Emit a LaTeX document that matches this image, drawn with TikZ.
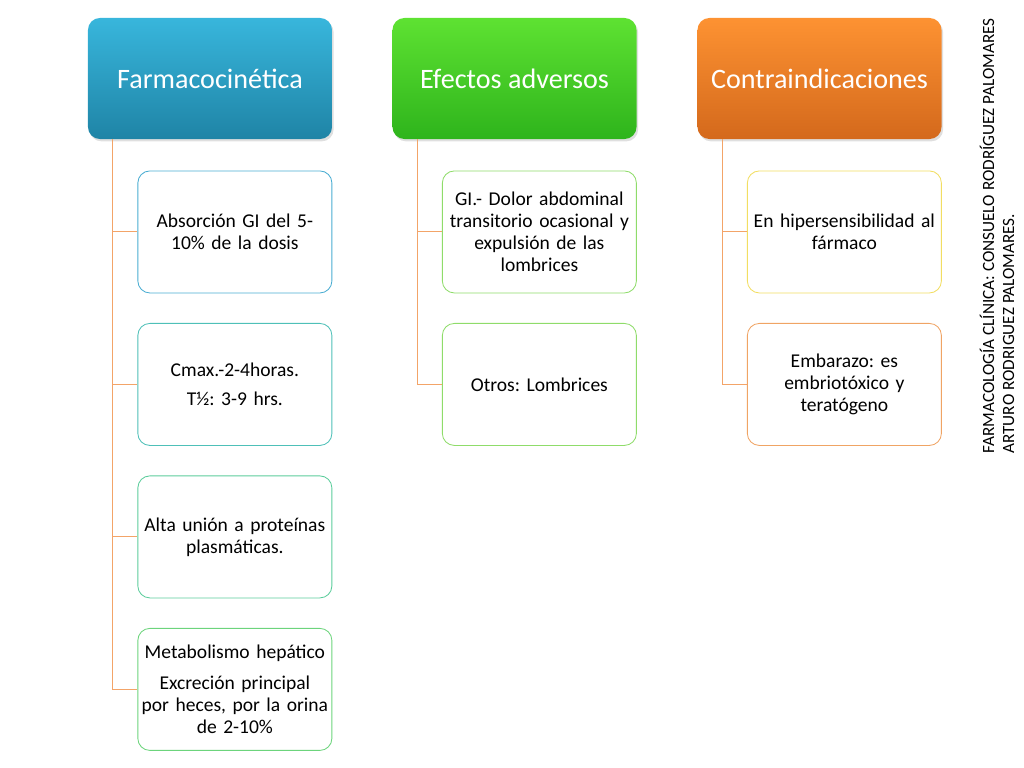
\documentclass[tikz,border=0pt]{standalone}
\usepackage{fontspec}
\setmainfont{Carlito}
\usetikzlibrary{positioning,shadows}
\frenchspacing
\hyphenpenalty=10000
\exhyphenpenalty=10000

\definecolor{fktop}{HTML}{38B6DC}
\definecolor{fkbot}{HTML}{1F84A6}
\definecolor{eatop}{HTML}{5EE232}
\definecolor{eabot}{HTML}{2EB41C}
\definecolor{citop}{HTML}{FD9232}
\definecolor{cibot}{HTML}{D4691C}
\definecolor{fkA}{HTML}{4AADD2}
\definecolor{fkB}{HTML}{4EC0B8}
\definecolor{fkC}{HTML}{5CCD9C}
\definecolor{fkD}{HTML}{6CD47C}
\definecolor{eaA}{HTML}{8FDC6A}
\definecolor{ciA}{HTML}{F2DE62}
\definecolor{ciB}{HTML}{F0A464}
\definecolor{linkorange}{HTML}{F3A468}

\begin{document}
\begin{tikzpicture}[
  x=0.025cm, y=-0.025cm,
  head/.style={rectangle, rounded corners=0.3cm, minimum width=6.1cm, minimum height=3.025cm,
    top color=#1top, bottom color=#1bot, text=white, font=\fontsize{20}{24}\selectfont,
    drop shadow={opacity=0.25, shadow xshift=0.04cm, shadow yshift=-0.06cm}},
  item/.style={rectangle, draw=#1, line width=0.6pt, rounded corners=0.3cm, fill=white,
    minimum width=4.85cm, minimum height=3.05cm, text width=4.75cm, inner xsep=0.05cm, align=center,
    font=\fontsize{13.9}{15.6}\selectfont},
  link/.style={draw=linkorange, line width=0.7pt}
]
\useasboundingbox (0,0) rectangle (1024,768);

% headers
\node[head=fk] (fk) at (210,78.5) {Farmacocinética};
\node[head=ea] (ea) at (514.5,78.5) {Efectos adversos};
\node[head=ci] (ci) at (819.5,78.5) {Contraindicaciones};

% Farmacocinetica
\node[item=fkA, below=0.78cm of fk.south east, anchor=north east] (fk1) {Absorción GI del 5-\\10\% de la dosis};
\node[item=fkB, below=0.74cm of fk1] (fk2) {Cmax.-2-4horas.\\[5pt]T½: 3-9 hrs.};
\node[item=fkC, below=0.74cm of fk2] (fk3) {Alta unión a proteínas\\plasmáticas.};
\node[item=fkD, below=0.74cm of fk3] (fk4) {Metabolismo hepático\\[6.4pt]Excreción principal\\por heces, por la orina\\de 2-10\%};

% Efectos adversos
\node[item=eaA, below=0.78cm of ea.south east, anchor=north east] (ea1) {GI.- Dolor abdominal\\transitorio ocasional y\\expulsión de las\\lombrices};
\node[item=eaA, below=0.74cm of ea1] (ea2) {Otros: Lombrices};

% Contraindicaciones
\node[item=ciA, below=0.78cm of ci.south east, anchor=north east] (ci1) {En hipersensibilidad al\\fármaco};
\node[item=ciB, below=0.74cm of ci1] (ci2) {Embarazo: es\\embriotóxico y\\teratógeno};

% connectors
\coordinate (fkbar) at ([xshift=0.625cm]fk.south west);
\coordinate (eabar) at ([xshift=0.625cm]ea.south west);
\coordinate (cibar) at ([xshift=0.625cm]ci.south west);
\foreach \n in {1,...,4}
  \draw[link] (fkbar) |- (fk\n.west);
\foreach \n in {1,2} {
  \draw[link] (eabar) |- (ea\n.west);
  \draw[link] (cibar) |- (ci\n.west);
}

% autores
\node[rotate=90, align=left, font=\fontsize{12.2}{14.2}\selectfont] (autores) at (997,236)
  {FARMACOLOGÍA CLÍNICA: CONSUELO RODRÍGUEZ PALOMARES\\ARTURO RODRIGUEZ PALOMARES.};
\end{tikzpicture}
\end{document}
